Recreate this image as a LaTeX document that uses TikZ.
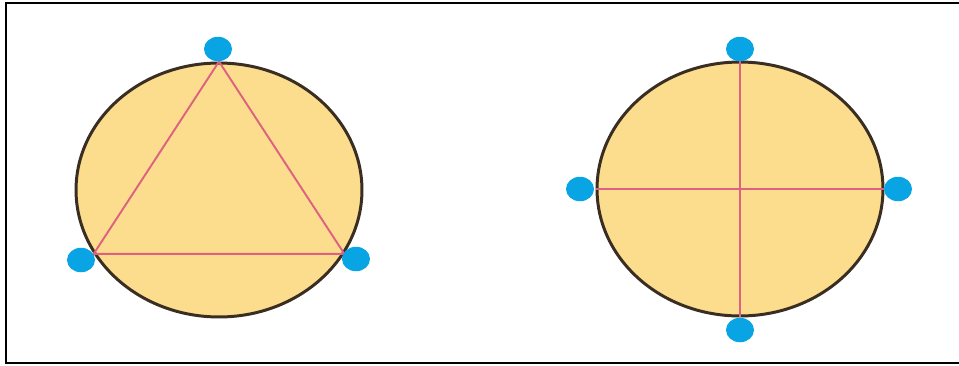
\documentclass[tikz,border=0pt]{standalone}
\usepackage{xcolor}
\usetikzlibrary{shapes.geometric, positioning}

\definecolor{discfill}{RGB}{252,221,142}
\definecolor{discline}{RGB}{58,46,34}
\definecolor{chordpink}{RGB}{222,98,128}
\definecolor{dotblue}{RGB}{8,164,228}

\begin{document}
\begin{tikzpicture}[
    x=0.02cm, y=-0.02cm,
    disc/.style={ellipse, draw=discline, fill=discfill, line width=1.7pt,
                  inner sep=0pt, minimum width=5.72cm, minimum height=5.08cm}, % Orange discs
    dot/.style={ellipse, fill=dotblue, inner sep=0pt,
                minimum width=0.56cm, minimum height=0.49cm},                % Blue points
    chord/.style={draw=chordpink, line width=1.1pt}                          % Pink chords
]
\useasboundingbox (0,0) rectangle (959,365);

% --- FRAME ---
\draw[line width=0.9pt] (6,3) rectangle (965,363);

% --- DISCS ---
\node[disc] (lc) at (219,190) {};
\node[disc] (rc) at (740,189) {};

% --- TRIANGLE IN LEFT DISC ---
\coordinate (ta) at (lc.north);
\coordinate (tb) at (lc.207);
\coordinate (tc) at (lc.333);
\draw[chord] (ta) -- (tb) -- (tc) -- cycle;

% --- CROSS IN RIGHT DISC ---
\draw[chord] (rc.north) -- (rc.south);
\draw[chord] (rc.west) -- (rc.east);

% --- POINTS ON LEFT DISC ---
\node[dot] (la) at (218,49) {};
\node[dot] (lb) at (81,260) {};
\node[dot] (ld) at (356,259) {};

% --- POINTS ON RIGHT DISC ---
\node[dot] (ra) at (740,49) {};
\node[dot] (rb) at (580,189) {};
\node[dot] (rd) at (898,189) {};
\node[dot] (re) at (740,330) {};

\end{tikzpicture}
\end{document}
